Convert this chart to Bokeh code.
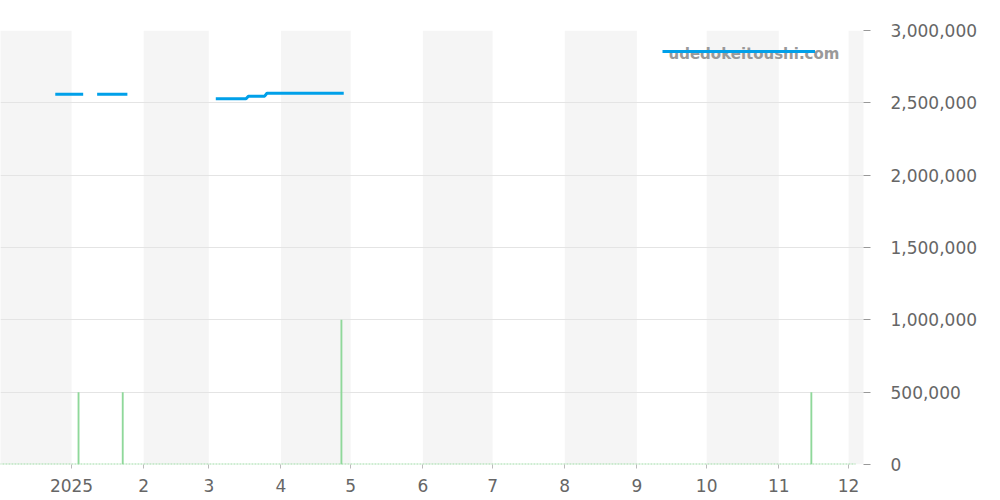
import numpy as np
import pandas as pd
from bokeh.plotting import figure
from bokeh.models import (Range1d, FixedTicker, NumeralTickFormatter, BoxAnnotation,
                          Legend, LegendItem, Label)
from bokeh.embed import file_html
from bokeh.resources import INLINE

# ---- data ----
month_starts = ["2024-12-01", "2025-01-01", "2025-02-01", "2025-03-01", "2025-04-01",
                "2025-05-01", "2025-06-01", "2025-07-01", "2025-08-01", "2025-09-01",
                "2025-10-01", "2025-11-01", "2025-12-01", "2026-01-01"]
month_labels = ["", "2025", "2", "3", "4", "5", "6", "7", "8", "9", "10", "11", "12", ""]

price_dates = ["2024-12-25", "2025-01-06", "2025-01-09", "2025-01-12", "2025-01-25",
               "2025-02-15", "2025-03-04", "2025-03-17", "2025-03-18", "2025-03-25",
               "2025-03-26", "2025-04-28"]
prices = [2560000, 2560000, np.nan, 2560000, 2560000,
          np.nan, 2528000, 2528000, 2546000, 2546000,
          2566000, 2566000]

volume_dates = ["2025-01-04", "2025-01-23", "2025-04-27", "2025-11-15"]
volumes = [500000, 500000, 1000000, 500000]
volume_span = ["2024-12-01", "2025-12-04"]
volume_base = [0, 0]

y_ticks = [0, 500000, 1000000, 1500000, 2000000, 2500000, 3000000]


def ms(s):
    return pd.Timestamp(s).value // 10**6


p = figure(frame_width=863, frame_height=434, output_backend="svg", toolbar_location=None,
           y_axis_location="right", x_axis_type="datetime",
           x_range=Range1d(ms("2024-12-01 11:00"), ms("2025-12-07 10:00")),
           y_range=Range1d(0, 3000000),
           min_border_left=0, min_border_top=30, min_border_right=0, min_border_bottom=0)
p.outline_line_color = None
p.background_fill_color = "white"

# alternating month bands
for i in range(0, len(month_starts) - 1, 2):
    p.add_layout(BoxAnnotation(left=ms(month_starts[i]), right=ms(month_starts[i + 1]),
                               fill_color="#f5f5f5", fill_alpha=1, line_color=None,
                               level="image"))

# axes
tick_ms = [ms(d) for d in month_starts]
p.xaxis.ticker = FixedTicker(ticks=tick_ms)
p.xaxis.major_label_overrides = {t: l for t, l in zip(tick_ms, month_labels)}
p.xaxis.axis_line_color = None
p.xaxis.major_tick_out = 4
p.xaxis.major_tick_in = 0
p.xaxis.minor_tick_line_color = None
p.xaxis.major_tick_line_color = "#bbbbbb"
p.xaxis.major_label_text_font = "DejaVu Sans"
p.xaxis.major_label_text_font_size = "17px"
p.xaxis.major_label_text_color = "#666666"
p.xaxis.major_label_standoff = 10
p.xgrid.grid_line_color = None

p.yaxis.ticker = FixedTicker(ticks=y_ticks)
p.yaxis.formatter = NumeralTickFormatter(format="0,0")
p.yaxis.axis_line_color = None
p.yaxis.major_tick_out = 7
p.yaxis.major_tick_in = 0
p.yaxis.minor_tick_line_color = None
p.yaxis.major_tick_line_color = "#999999"
p.yaxis.major_label_text_font = "DejaVu Sans"
p.yaxis.major_label_text_font_size = "17px"
p.yaxis.major_label_text_color = "#666666"
p.yaxis.major_label_standoff = 20
p.ygrid.grid_line_color = "#e4e4e4"
p.ygrid.grid_line_width = 1
p.ygrid.level = "underlay"

# volume
p.line(x=[ms(d) for d in volume_span], y=volume_base, line_color="#9fdca8",
       line_width=2, line_dash="2 1")
p.vbar(x=[ms(d) for d in volume_dates], top=volumes, bottom=0, width=0.8 * 86400000,
       fill_color="#8fd89a", line_color=None)

# price
pl = p.line(x=[ms(d) for d in price_dates], y=prices, line_color="#00a0e9", line_width=3)

p.add_layout(Label(x=668, y=411, x_units="screen", y_units="screen",
                   text="udedokeitoushi.com", text_font="DejaVu Sans",
                   text_font_style="bold", text_font_size="15px", text_color="#999999",
                   text_baseline="middle"))

legend = Legend(items=[LegendItem(label=" ", renderers=[pl])], location=(662, 403),
                glyph_width=153, glyph_height=20, padding=0, margin=0, spacing=0,
                label_text_font_size="1px", label_standoff=0, label_width=0,
                border_line_color=None, background_fill_alpha=0)
p.add_layout(legend)

open("out.html", "w").write(file_html(p, INLINE))
